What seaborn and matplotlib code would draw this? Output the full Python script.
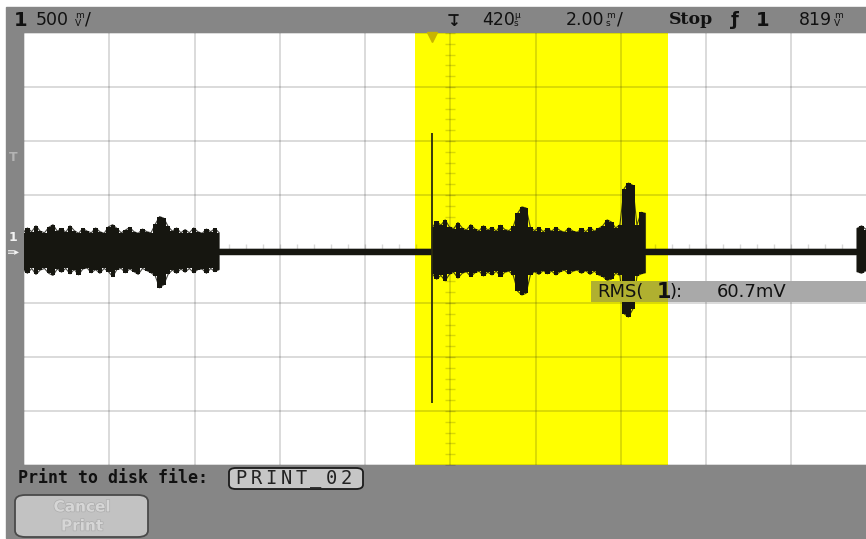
import numpy as np
import pandas as pd
import seaborn as sns
import matplotlib.pyplot as plt
from matplotlib.patches import Rectangle, FancyBboxPatch
import matplotlib.patheffects as pe

# Scope settings (status line)
volts_per_div = 500      # mV/div
time_per_div = 2.00      # ms/div
delay = 0.42             # ms
trig_level = 819         # mV
rms_value = 60.7         # mV
window = (-0.41, 5.53)   # yellow measurement window, ms

# Trace envelope in mV, evenly spaced between start/end (ms)
burst1_time = (-9.6, -5.0)
burst1_hi = [150, 195, 160, 215, 165, 150, 200, 225, 165, 190, 155, 215, 170, 145, 190,
             165, 150, 195, 160, 145, 205, 225, 190, 150, 175, 200, 160, 145, 185, 160,
             150, 230, 300, 285, 210, 165, 195, 150, 180, 150, 195, 160, 145, 185, 160,
             190, 150]
burst1_lo = [-190, -225, -180, -235, -195, -180, -225, -245, -185, -215, -180, -230, -190,
             -240, -185, -175, -220, -190, -225, -180, -210, -255, -190, -180, -220, -185,
             -210, -235, -180, -200, -220, -250, -360, -330, -235, -195, -225, -185, -215,
             -180, -220, -190, -185, -225, -180, -210, -190]

quiet1_time = (-5.0, 0.0)
quiet_hi = [-3, -3]
quiet_lo = [-53, -53]

burst2_time = (0.0, 5.0)
burst2_hi = [200, 255, 220, 270, 205, 185, 245, 195, 175, 225, 185, 170, 215, 175, 200,
             165, 220, 180, 170, 210, 330, 390, 380, 200, 170, 200, 160, 190, 165, 200,
             170, 155, 195, 165, 155, 190, 160, 200, 165, 190, 215, 270, 250, 195, 225,
             560, 611, 590, 220, 340, 330]
burst2_lo = [-230, -280, -245, -295, -235, -215, -270, -225, -210, -255, -220, -205, -250,
             -215, -240, -205, -255, -215, -205, -245, -390, -426, -410, -240, -210, -235,
             -200, -230, -205, -240, -210, -195, -230, -205, -195, -225, -200, -235, -205,
             -240, -255, -290, -280, -225, -245, -600, -630, -560, -250, -230, -220]

quiet2_time = (5.0, 9.96)

burst3_time = (9.96, 10.4)
burst3_hi = [190, 215, 180, 205, 190]
burst3_lo = [-210, -225, -200, -220, -210]

# glitch at the trigger point
glitch_time = 0.0
glitch_range = (-1426, 1074)

W, H = 866, 539
segments = [(burst1_time, burst1_hi, burst1_lo),
            (quiet1_time, quiet_hi, quiet_lo),
            (burst2_time, burst2_hi, burst2_lo),
            (quiet2_time, quiet_hi, quiet_lo),
            (burst3_time, burst3_hi, burst3_lo)]
frames = []
for (t0, t1), hi, lo in segments:
    frames.append(pd.DataFrame({'time': np.linspace(t0, t1, len(hi)), 'hi': hi, 'lo': lo}))
trace = pd.concat(frames, ignore_index=True)

sns.set_theme(style='white')
plt.rcParams['font.family'] = ['DejaVu Sans']

fig = plt.figure(figsize=(W / 100, H / 100), dpi=100, facecolor='white')
fig.patches.append(Rectangle((6 / W, 1 / H), (W - 6) / W, (H - 8) / H,
                             transform=fig.transFigure, color='#868686', zorder=-5))

ax = fig.add_axes([24 / W, 74 / H, 842 / W, 432 / H])
ax.set_facecolor('white')
x_left = delay - 5 * time_per_div
x_right = x_left + 842 / 85.25 * time_per_div
ax.set_xlim(x_left, x_right)
ax.set_ylim(-4 * volts_per_div, 4 * volts_per_div)
for s in ax.spines.values():
    s.set_visible(False)
ax.set_xticks([])
ax.set_yticks([])

ax.axvspan(*window, color='#ffff00', lw=0, zorder=0.5)

# graticule
for k in range(-5, 6):
    ax.axvline(delay + k * time_per_div, color='k', alpha=0.17, lw=1.3, zorder=1)
for k in range(-4, 5):
    ax.axhline(k * volts_per_div, color='k', alpha=0.17, lw=1.3, zorder=1)
yminor = np.arange(-20, 21) * volts_per_div / 5
xminor = delay + np.arange(-25, 26) * time_per_div / 5
ax.plot(np.full(len(yminor), delay), yminor, ls='', marker='_', ms=7, mew=1,
        color='k', alpha=0.17, zorder=1)
ax.plot(xminor, np.zeros(len(xminor)), ls='', marker='|', ms=7, mew=1,
        color='k', alpha=0.17, zorder=1)

# trace
ax.fill_between(trace['time'], trace['lo'], trace['hi'], color='#161610', lw=0,
                step='mid', zorder=3)
for col in ['hi', 'lo']:
    sns.lineplot(data=trace, x='time', y=col, estimator=None, sort=False, ax=ax,
                 color='#161610', lw=0.8, alpha=0.8, zorder=3)
ax.vlines(glitch_time, *glitch_range, color='#2a2a10', lw=1.3, zorder=3)
ax.set_xlabel('')
ax.set_ylabel('')
ax.plot(glitch_time, 4 * volts_per_div - 40, marker='v', color='#c8b400', ms=7,
        clip_on=False, zorder=4)

# RMS readout box (covers the trace), olive where it sits on the window
box_t0 = x_left + (591 - 24) / 85.25 * time_per_div
box_lo, box_hi = -491, -296
ax.add_patch(Rectangle((box_t0, box_lo), window[1] - box_t0, box_hi - box_lo,
                       color='#b0b030', lw=0, zorder=5))
ax.add_patch(Rectangle((window[1], box_lo), x_right - window[1], box_hi - box_lo,
                       color='#a9a9a9', lw=0, zorder=5))


def T(px, py, s, **kw):
    kw.setdefault('va', 'center')
    kw.setdefault('color', '#111111')
    return fig.text(px / W, 1 - py / H, s, **kw)


def units(px, py, top, bot):
    T(px, py - 4, top, fontsize=6.5)
    T(px, py + 4, bot, fontsize=6.5)


# status line
ty = 20
T(14, ty, '1', fontsize=14, weight='bold')
T(36, ty, f'{volts_per_div}', fontsize=12.5)
units(75, ty, 'm', 'V')
T(85, ty, '/', fontsize=12.5)
T(447, ty + 1, '↓', fontsize=11, weight='bold')
fig.lines.append(plt.Line2D([449 / W, 458 / W], [1 - 15 / H, 1 - 15 / H],
                            transform=fig.transFigure, color='#111111', lw=1.3))
T(482, ty, f'{delay * 1000:.0f}', fontsize=12.5)
units(514, ty, 'µ', 's')
T(566, ty, f'{time_per_div:.2f}', fontsize=12.5)
units(606, ty, 'm', 's')
T(617, ty, '/', fontsize=12.5)
T(669, ty, 'Stop', fontsize=12.5, weight='bold', family='DejaVu Serif')
T(731, ty, 'ƒ', fontsize=13, weight='bold')
T(756, ty, '1', fontsize=14, weight='bold')
T(799, ty, f'{trig_level}', fontsize=12.5)
units(834, ty, 'm', 'V')

# left markers
T(9, 157, 'T', fontsize=9, color='#b4b4b4', weight='bold')
T(9, 238, '1', fontsize=9, color='#f2f2f2', weight='bold')
T(7, 251, '≡▸', fontsize=7, color='#f2f2f2')

# RMS readout text
T(597, 292, 'RMS(', fontsize=13, zorder=6)
T(657, 292, '1', fontsize=15, weight='bold', zorder=6)
T(670, 292, '):', fontsize=13, zorder=6)
T(717, 292, f'{rms_value}mV', fontsize=13, zorder=6)

# bottom soft-key area
T(18, 478, 'Print to disk file:', fontsize=12, weight='bold', family='DejaVu Sans Mono')
fig.patches.append(FancyBboxPatch((229 / W, 1 - 489 / H), 134 / W, 21 / H,
                                  boxstyle='round,pad=0,rounding_size=0.008',
                                  transform=fig.transFigure, facecolor='#c6c6c6',
                                  edgecolor='#1a1a1a', lw=1.3, zorder=1))
for i, ch in enumerate('PRINT_02'):
    T(241 + 15 * i, 478, ch, fontsize=13.5, ha='center', family='DejaVu Sans Mono',
      color='#222222', zorder=2)
fig.patches.append(FancyBboxPatch((15 / W, 1 - 537 / H), 133 / W, 42 / H,
                                  boxstyle='round,pad=0,rounding_size=0.012',
                                  transform=fig.transFigure, facecolor='#c2c2c2',
                                  edgecolor='#4a4a4a', lw=1.3, zorder=1))
stroke = [pe.withStroke(linewidth=1.0, foreground='#adadad')]
T(82, 507, 'Cancel', fontsize=11, ha='center', color='#d6d6d6', weight='bold',
  path_effects=stroke, zorder=2)
T(82, 526, 'Print', fontsize=11, ha='center', color='#d6d6d6', weight='bold',
  path_effects=stroke, zorder=2)

fig.savefig('out.png', dpi=100, facecolor=fig.get_facecolor())
